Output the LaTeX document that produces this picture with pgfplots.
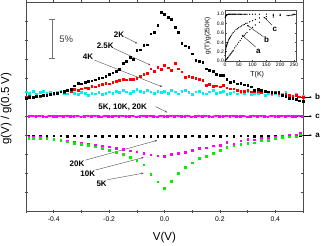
\documentclass[border=0pt]{standalone}
\usepackage{fontspec}
\setmainfont{Liberation Sans}
\usepackage{pgfplots}
\pgfplotsset{compat=1.18}
\usetikzlibrary{arrows.meta}
\definecolor{cy}{RGB}{0,240,240}
\definecolor{mg}{RGB}{255,0,255}
\definecolor{gr}{RGB}{0,240,0}
\definecolor{rd}{RGB}{255,0,0}
\begin{document}
\begin{tikzpicture}
\pgfplotstableread{
V u
-0.49 5.0
-0.4775 5.03
-0.465 4.98
-0.4525 5.02
-0.44 5.0
-0.4275 4.97
-0.415 5.03
-0.4025 5.0
-0.39 4.98
-0.3775 5.02
-0.365 5.0
-0.3525 5.03
-0.34 4.98
-0.3275 5.0
-0.315 5.02
-0.3025 4.97
-0.29 5.0
-0.2775 5.03
-0.265 4.99
-0.2525 5.02
-0.24 5.0
-0.2275 4.97
-0.215 5.03
-0.2025 5.0
-0.19 4.98
-0.1775 5.02
-0.165 5.0
-0.1525 5.03
-0.14 4.98
-0.1275 5.0
-0.115 5.02
-0.1025 4.97
-0.09 5.0
-0.0775 5.03
-0.065 4.99
-0.0525 5.02
-0.04 5.0
-0.0275 4.97
-0.015 5.03
-0.0025 5.0
0.01 4.98
0.0225 5.02
0.035 5.0
0.0475 5.03
0.06 4.98
0.0725 5.0
0.085 5.02
0.0975 4.97
0.11 5.0
0.1225 5.03
0.135 4.99
0.1475 5.02
0.16 5.0
0.1725 4.97
0.185 5.03
0.1975 5.0
0.21 4.98
0.2225 5.02
0.235 5.0
0.2475 5.03
0.26 4.98
0.2725 5.0
0.285 5.02
0.2975 4.97
0.31 5.0
0.3225 5.03
0.335 4.99
0.3475 5.02
0.36 5.0
0.3725 4.97
0.385 5.03
0.3975 5.0
0.41 4.98
0.4225 5.02
0.435 5.0
0.4475 5.03
0.46 4.98
0.4725 5.0
0.485 5.02
0.4975 5.0
}\cband
\begin{axis}[
  at={(0pt,0pt)}, anchor=south west,
  width=277pt, height=209.3pt, scale only axis,
  xmin=-0.5, xmax=0.5, ymin=0, ymax=11,
  xtick={-0.4,-0.2,0,0.2,0.4},
  minor xtick={-0.5,-0.3,-0.1,0.1,0.3,0.5},
  ytick={1,2,...,10}, yticklabels={},
  xticklabel style={/pgf/number format/fixed,/pgf/number format/precision=1,/pgf/number format/fixed zerofill,font=\fontsize{6.8}{7}\selectfont},
  /pgf/number format/assume math mode=true,
  tick align=center, major tick length=3pt, minor tick length=3pt,
  axis line style={black!70, line width=0.6pt},
  every tick/.style={black!70, line width=0.5pt},
  xlabel={V(V)}, ylabel={g(V) / g(0.5 V)},
  label style={font=\fontsize{11.5}{12}\selectfont},
  xlabel style={at={(axis description cs:0.5,-0.123)}, anchor=center},
  ylabel style={at={(axis description cs:-0.072,0.49)}, anchor=center},
  clip=false,
  every axis plot/.append style={only marks, mark=square*, mark size=0.85pt},
]
% c band
\addplot[mg, no marks, sharp plot, line width=1.4pt] table {\cband};
\addplot[mg, mark size=0.85pt, mark options={fill=mg}] table {\cband};
% b : cyan
\addplot[cy, mark options={fill=cy}] coordinates {
(-0.5,6.28)(-0.4875,6.22)(-0.475,6.30)(-0.4625,6.18)(-0.45,6.25)(-0.4375,6.32)(-0.425,6.20)(-0.4125,6.27)(-0.4,6.15)(-0.3875,6.25)
(-0.375,6.30)(-0.3625,6.22)(-0.35,6.18)(-0.3375,6.28)(-0.325,6.20)(-0.3125,6.15)(-0.3,6.25)(-0.2875,6.20)(-0.275,6.12)(-0.2625,6.22)
(-0.25,6.18)(-0.2375,6.25)(-0.225,6.15)(-0.2125,6.22)(-0.2,6.28)(-0.1875,6.20)(-0.175,6.30)(-0.1625,6.25)(-0.15,6.35)(-0.1375,6.28)
(-0.125,6.22)(-0.1125,6.32)(-0.1,6.40)(-0.0875,6.30)(-0.075,6.25)(-0.0625,6.35)(-0.05,6.28)(-0.0375,6.20)(-0.025,6.32)(-0.0125,6.26)
(0,6.30)(0.0125,6.22)(0.025,6.35)(0.0375,6.28)(0.05,6.18)(0.0625,6.30)(0.075,6.38)(0.0875,6.25)(0.1,6.15)(0.1125,6.28)
(0.125,6.32)(0.1375,6.22)(0.15,6.18)(0.1625,6.28)(0.175,6.35)(0.1875,6.20)(0.2,6.25)(0.2125,6.30)(0.225,6.15)(0.2375,6.22)
(0.25,6.28)(0.2625,6.18)(0.275,6.25)(0.2875,6.20)(0.3,6.28)(0.3125,6.15)(0.325,6.22)(0.3375,6.18)(0.35,6.25)(0.3625,6.12)
(0.375,6.20)(0.3875,6.15)(0.4,6.22)(0.4125,6.10)(0.425,6.18)(0.4375,6.28)(0.45,6.12)(0.4625,6.05)(0.475,6.18)(0.4875,6.02)(0.5,6.08)
};
% 2.5K red
\addplot[rd, mark options={fill=rd}] coordinates {
(-0.5,6.00)(-0.4875,6.05)(-0.475,5.98)(-0.4625,6.08)(-0.45,6.05)(-0.4375,6.12)(-0.425,6.10)(-0.4125,6.15)(-0.4,6.20)(-0.3875,6.18)
(-0.375,6.28)(-0.3625,6.25)(-0.35,6.35)(-0.3375,6.30)(-0.325,6.40)(-0.3125,6.38)(-0.3,6.45)(-0.2875,6.50)(-0.275,6.48)(-0.2625,6.57)
(-0.25,6.55)(-0.2375,6.62)(-0.225,6.68)(-0.2125,6.72)(-0.2,6.70)(-0.1875,6.80)(-0.175,6.85)(-0.1625,6.90)(-0.15,6.94)(-0.1375,6.92)
(-0.125,6.96)(-0.1125,6.93)(-0.1,7.00)(-0.0875,7.10)(-0.075,7.20)(-0.0625,7.24)(-0.05,7.50)(-0.0375,7.35)(-0.025,7.59)(-0.0125,7.45)
(0,7.68)(0.0125,7.55)(0.025,7.42)(0.0375,7.77)(0.05,7.50)(0.0625,7.33)(0.075,7.06)(0.0875,7.10)(0.1,7.05)(0.1125,6.98)
(0.125,6.95)(0.1375,6.89)(0.15,6.63)(0.1625,6.68)(0.175,6.58)(0.1875,6.60)(0.2,6.55)(0.2125,6.62)(0.225,6.50)(0.2375,6.45)
(0.25,6.45)(0.2625,6.38)(0.275,6.32)(0.2875,6.30)(0.3,6.35)(0.3125,6.28)(0.325,6.32)(0.3375,6.30)(0.35,6.25)(0.3625,6.30)
(0.375,6.28)(0.3875,6.22)(0.4,6.25)(0.4125,6.18)(0.425,6.12)(0.4375,6.15)(0.45,6.10)(0.4625,6.05)(0.475,6.10)(0.4875,6.02)(0.5,6.00)
};
% 2K black
\addplot[black, mark options={fill=black}] coordinates {
(-0.5,5.93)(-0.4875,5.98)(-0.475,6.00)(-0.4625,6.05)(-0.45,6.08)(-0.4375,6.10)(-0.425,6.12)(-0.4125,6.16)(-0.4,6.19)(-0.3875,6.22)
(-0.375,6.28)(-0.3625,6.32)(-0.35,6.36)(-0.3375,6.40)(-0.325,6.60)(-0.3125,6.72)(-0.3,6.70)(-0.2875,6.78)(-0.275,6.82)(-0.2625,6.86)
(-0.25,6.92)(-0.2375,6.98)(-0.225,7.02)(-0.2125,7.10)(-0.2,7.20)(-0.1875,7.28)(-0.175,7.38)(-0.1625,7.45)(-0.15,7.80)(-0.1375,7.90)
(-0.125,8.10)(-0.1125,8.00)(-0.1,8.47)(-0.0875,8.50)(-0.075,8.73)(-0.0625,8.75)(-0.05,9.34)(-0.0375,9.40)(-0.025,9.77)(-0.0125,10.45)
(0,10.35)(0.0125,10.20)(0.025,10.10)(0.0375,9.69)(0.05,9.42)(0.0625,8.83)(0.075,8.70)(0.0875,8.64)(0.1,8.29)(0.1125,7.94)
(0.125,7.90)(0.1375,7.85)(0.15,7.50)(0.1625,7.41)(0.175,7.35)(0.1875,7.20)(0.2,7.15)(0.2125,7.15)(0.225,6.95)(0.2375,6.80)
(0.25,6.85)(0.2625,6.70)(0.275,6.72)(0.2875,6.65)(0.3,6.63)(0.3125,6.55)(0.325,6.36)(0.3375,6.40)(0.35,6.36)(0.3625,6.30)
(0.375,6.28)(0.3875,6.26)(0.4,6.24)(0.4125,6.26)(0.425,6.10)(0.4375,6.05)(0.45,5.95)(0.4625,5.95)(0.475,5.90)(0.4875,5.82)(0.5,5.78)
};
% a : 20K black
\addplot[black, mark options={fill=black}] coordinates {
(-0.49,3.98)(-0.475,3.97)(-0.45,3.98)(-0.425,3.96)(-0.4,3.98)(-0.375,3.97)(-0.35,3.96)(-0.325,3.98)(-0.3,3.97)(-0.275,3.96)
(-0.25,3.97)(-0.225,3.95)(-0.2,3.97)(-0.175,3.96)(-0.15,3.95)(-0.125,3.97)(-0.1,3.95)(-0.075,3.96)(-0.05,3.95)(-0.025,3.94)
(0,3.95)(0.025,3.94)(0.05,3.95)(0.075,3.96)(0.1,3.97)(0.125,3.96)(0.15,3.95)(0.175,3.97)(0.2,3.96)(0.225,3.97)
(0.25,3.96)(0.275,3.97)(0.3,3.98)(0.325,3.95)(0.35,3.96)(0.375,3.98)(0.4,3.97)(0.425,3.98)(0.45,3.97)(0.475,3.98)(0.49,4.00)
};
% 10K magenta
\addplot[mg, mark options={fill=mg}] coordinates {
(-0.49,3.90)(-0.475,3.90)(-0.45,3.88)(-0.425,3.86)(-0.4,3.80)(-0.375,3.76)(-0.35,3.70)(-0.325,3.64)(-0.3,3.58)(-0.275,3.54)
(-0.25,3.47)(-0.225,3.44)(-0.2,3.39)(-0.175,3.30)(-0.15,3.25)(-0.125,3.18)(-0.1,3.14)(-0.075,3.04)(-0.05,2.97)(-0.025,2.92)
(0,2.90)(0.025,3.01)(0.05,3.06)(0.075,3.10)(0.1,3.22)(0.125,3.30)(0.15,3.34)(0.175,3.44)(0.2,3.48)(0.225,3.64)
(0.25,3.55)(0.275,3.71)(0.3,3.78)(0.325,3.76)(0.35,3.85)(0.375,3.85)(0.4,3.92)(0.425,3.95)(0.45,3.99)(0.475,4.00)(0.49,4.09)
};
% 5K green
\addplot[gr, mark options={fill=gr}] coordinates {
(-0.49,3.85)(-0.475,3.86)(-0.45,3.85)(-0.425,3.82)(-0.4,3.78)(-0.375,3.72)(-0.35,3.65)(-0.325,3.58)(-0.3,3.52)(-0.275,3.46)
(-0.25,3.40)(-0.225,3.32)(-0.2,3.21)(-0.175,3.12)(-0.15,3.00)(-0.125,2.85)(-0.1,2.70)(-0.075,2.45)(-0.05,1.96)(-0.025,1.55)
(0,1.21)(0.025,1.59)(0.05,1.99)(0.075,2.31)(0.1,2.55)(0.125,2.78)(0.15,2.90)(0.175,3.04)(0.2,3.22)(0.225,3.36)
(0.25,3.44)(0.275,3.53)(0.3,3.57)(0.325,3.60)(0.35,3.72)(0.375,3.74)(0.4,3.85)(0.425,3.88)(0.45,3.92)(0.475,3.92)(0.49,4.02)
};
% annotations
\draw[black!55, line width=0.5pt] (axis cs:-0.407,8.04) -- (axis cs:-0.407,10.08);
\draw[black!55, line width=0.5pt] (axis cs:-0.418,10.08) -- (axis cs:-0.396,10.08);
\draw[black!55, line width=0.5pt] (axis cs:-0.418,8.04) -- (axis cs:-0.396,8.04);
\node[font=\fontsize{9.5}{10}\selectfont, text=black!75] at (axis cs:-0.355,9.05) {5\%};
\begin{scope}[every node/.style={font=\bfseries\fontsize{8}{8}\selectfont, inner sep=0.5pt}]
\node at (axis cs:-0.164,9.27) {2K};
\draw[black!70, line width=0.4pt, -{Stealth[length=2.5pt]}] (axis cs:-0.144,9.17) -- (axis cs:-0.098,8.82);
\node at (axis cs:-0.214,8.72) {2.5K};
\draw[black!70, line width=0.4pt, -{Stealth[length=2.5pt]}] (axis cs:-0.184,8.57) -- (axis cs:-0.05,7.68);
\node at (axis cs:-0.276,8.11) {4K};
\draw[black!70, line width=0.4pt, -{Stealth[length=2.5pt]}] (axis cs:-0.252,7.94) -- (axis cs:-0.008,6.54);
\node at (axis cs:-0.151,5.47) {5K, 10K, 20K};
\draw[black!70, line width=0.4pt, -{Stealth[length=2.5pt]}] (axis cs:-0.032,5.5) -- (axis cs:0.01,5.2);
\node at (axis cs:-0.316,2.52) {20K};
\draw[black!70, line width=0.4pt, -{Stealth[length=2.5pt]}] (axis cs:-0.285,2.69) -- (axis cs:-0.026,3.73);
\node at (axis cs:-0.277,1.99) {10K};
\draw[black!70, line width=0.4pt, -{Stealth[length=2.5pt]}] (axis cs:-0.249,2.17) -- (axis cs:-0.075,2.83);
\node at (axis cs:-0.227,1.43) {5K};
\draw[black!70, line width=0.4pt, -{Stealth[length=2.5pt]}] (axis cs:-0.206,1.66) -- (axis cs:-0.075,2.01);
\draw[black, line width=0.4pt, -{Latex[length=2.5pt]}] (axis cs:0.48,6.0) -- (axis cs:0.533,6.0);
\node at (axis cs:0.553,6.0) {b};
\draw[black, line width=0.4pt, -{Latex[length=2.5pt]}] (axis cs:0.48,5.0) -- (axis cs:0.533,5.0);
\node at (axis cs:0.553,5.0) {c};
\draw[black, line width=0.4pt, -{Latex[length=2.5pt]}] (axis cs:0.5,4.0) -- (axis cs:0.533,4.0);
\node at (axis cs:0.553,4.0) {a};
\end{scope}
\end{axis}
\begin{axis}[
  at={(199pt,149.6pt)}, anchor=south west,
  width=71.7pt, height=51.7pt, scale only axis,
  xmin=0, xmax=260, ymin=-0.015, ymax=1.09,
  xtick={0,50,100,150,200,250}, ytick={0,0.2,0.4,0.6,0.8,1.0},
  yticklabel style={/pgf/number format/fixed,/pgf/number format/precision=1,/pgf/number format/fixed zerofill},
  /pgf/number format/assume math mode=true,
  ticklabel style={font=\fontsize{5}{5}\selectfont, inner sep=1pt},
  tick align=inside, major tick length=1.5pt,
  axis line style={black!70, line width=0.5pt},
  every tick/.style={black!70, line width=0.4pt},
  axis background/.style={fill=white},
  xlabel={T(K)}, ylabel={g(T)/g(250K)},
  xlabel style={font=\fontsize{7}{7}\selectfont, at={(axis description cs:0.45,-0.26)}, anchor=center},
  ylabel style={font=\fontsize{6.5}{6.5}\selectfont, at={(axis description cs:-0.24,0.5)}, anchor=center},
  clip=false,
  every axis plot/.append style={only marks, mark=*, mark size=0.35pt},
]
\addplot[black] coordinates {
(1,0.93)(2,0.95)(3,0.96)(4,0.97)(5,0.98)(7,0.985)(9,0.99)(11,0.995)(13,1.0)(16,1.0)(19,1.0)(22,1.0)(25,1.0)(28,1.0)(31,1.0)(34,1.0)(37,1.0)(40,1.0)
(44,1.0)(48,1.0)(52,1.0)(56,1.0)(60,1.0)(65,1.0)(70,1.0)(75,1.0)(80,1.0)(90,1.0)(100,1.0)(110,1.0)(125,1.0)(150,1.0)(175,1.0)(200,1.0)
(225,0.97)(230,0.97)(235,0.975)(240,0.98)(245,0.985)(250,0.99)
};
\addplot[black] coordinates {
(0,0.12)(1,0.17)(2,0.2)(3,0.24)(4,0.28)(5,0.31)(6,0.33)(7,0.35)(8,0.37)(9,0.39)(10,0.40)(12,0.43)(14,0.46)(16,0.48)(18,0.50)(20,0.52)(23,0.55)(26,0.58)(30,0.61)(35,0.64)(40,0.67)(45,0.69)(50,0.71)(55,0.73)(60,0.75)(65,0.77)(70,0.78)(75,0.80)(80,0.81)(90,0.84)(100,0.86)(110,0.89)(125,0.92)(150,0.95)(175,0.97)(200,0.98)(250,1.0)
};
\addplot[black] coordinates {
(0,0)(2,0.01)(4,0.03)(6,0.04)(8,0.055)(10,0.07)(12,0.085)(15,0.11)(18,0.13)(20,0.15)(23,0.17)(25,0.19)(28,0.21)(30,0.23)(35,0.28)(40,0.32)(45,0.36)(50,0.40)(55,0.44)(60,0.48)(65,0.52)(70,0.55)(75,0.58)(80,0.61)(90,0.67)(100,0.72)(110,0.77)(125,0.83)(150,0.90)(175,0.94)(200,0.97)(250,1.0)
};
\begin{scope}[every node/.style={font=\bfseries\fontsize{8}{8}\selectfont, inner sep=0.5pt}]
\node at (axis cs:181,0.685) {c};
\draw[black, line width=0.35pt, -{Latex[length=2pt]}] (axis cs:170,0.77) -- (axis cs:139,0.95);
\node at (axis cs:151,0.46) {b};
\draw[black, line width=0.35pt, -{Latex[length=2pt]}] (axis cs:139,0.52) -- (axis cs:79,0.77);
\node at (axis cs:121,0.21) {a};
\draw[black, line width=0.35pt, -{Latex[length=2pt]}] (axis cs:111,0.30) -- (axis cs:60,0.56);
\end{scope}
\end{axis}
\pgfresetboundingbox
\path (-26pt,-34.7pt) rectangle (295pt,211.3pt);
\end{tikzpicture}
\end{document}
